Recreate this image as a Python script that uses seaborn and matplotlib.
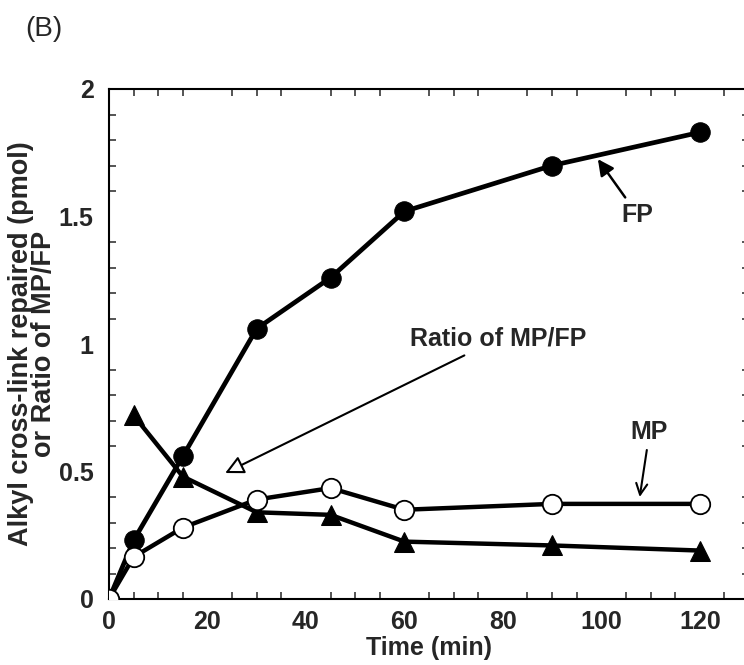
import matplotlib
matplotlib.use("Agg")
import matplotlib.pyplot as plt
import seaborn as sns
from matplotlib.ticker import MultipleLocator

# data (time in min)
fp_time = [0, 5, 15, 30, 45, 60, 90, 120]
fp_values = [0, 0.23, 0.56, 1.06, 1.26, 1.52, 1.70, 1.83]

mp_time = [0, 5, 15, 30, 45, 60, 90, 120]
mp_values = [0, 0.165, 0.28, 0.39, 0.435, 0.35, 0.373, 0.373]

ratio_time = [5, 15, 30, 45, 60, 90, 120]
ratio_values = [0.72, 0.48, 0.34, 0.33, 0.225, 0.21, 0.19]

x_ticks = [0, 20, 40, 60, 80, 100, 120]
y_ticks = [0, 0.5, 1, 1.5, 2]
y_tick_labels = ["0", "0.5", "1", "1.5", "2"]

sns.set_style("ticks")
plt.rcParams["font.family"] = ["Liberation Sans", "DejaVu Sans"]

fig = plt.figure(figsize=(7.44, 6.65), dpi=100)
# axes runs a bit past the right edge, like the cropped original
ax = fig.add_axes([109 / 744, 66 / 665, 640 / 744, 510 / 665])

sns.lineplot(x=ratio_time, y=ratio_values, ax=ax, color="black", lw=3.2,
             marker="^", markersize=14, markerfacecolor="black",
             markeredgecolor="black", zorder=3)
sns.lineplot(x=fp_time, y=fp_values, ax=ax, color="black", lw=3.4,
             marker="o", markersize=14, markerfacecolor="black",
             markeredgecolor="black", zorder=4)
sns.lineplot(x=mp_time, y=mp_values, ax=ax, color="black", lw=3.2,
             marker="o", markersize=14, markerfacecolor="white",
             markeredgecolor="black", markeredgewidth=1.3, zorder=5)

ax.set_xlim(0, 130)
ax.set_ylim(0, 2)
ax.set_xticks(x_ticks)
ax.set_xticklabels([str(t) for t in x_ticks], fontsize=18, fontweight="bold")
ax.set_yticks(y_ticks)
ax.set_yticklabels(y_tick_labels, fontsize=18, fontweight="bold")
ax.xaxis.set_minor_locator(MultipleLocator(5))
ax.yaxis.set_minor_locator(MultipleLocator(0.1))
ax.tick_params(which="major", length=0)
ax.tick_params(axis="y", which="major", pad=11)
ax.tick_params(axis="x", which="major", pad=8)
ax.tick_params(which="minor", direction="in", length=5, width=1.1,
               top=True, right=True, bottom=True, left=True)
for s in ax.spines.values():
    s.set_linewidth(1.5)
    s.set_color("black")

ax.set_xlabel("Time (min)", fontsize=18, fontweight="bold", labelpad=1)
ax.set_ylabel("Alkyl cross-link repaired (pmol)\nor Ratio of MP/FP",
              fontsize=19.5, fontweight="bold", linespacing=0.85)
ax.yaxis.set_label_coords((57 - 109) / 640, 0.5)

# annotations
ax.annotate("FP", xy=(99.3, 1.725), xytext=(107.4, 1.506),
            ha="center", va="center", fontsize=18, fontweight="bold",
            arrowprops=dict(arrowstyle="-|>", color="black", lw=1.8,
                            mutation_scale=24, shrinkA=2, shrinkB=0))
ax.annotate("Ratio of MP/FP", xy=(23.6, 0.494), xytext=(79, 1.02),
            ha="center", va="center", fontsize=18, fontweight="bold",
            arrowprops=dict(arrowstyle="-|>", facecolor="white",
                            edgecolor="black", lw=1.5, mutation_scale=28,
                            shrinkA=2, shrinkB=0))
ax.annotate("MP", xy=(107.8, 0.40), xytext=(109.8, 0.655),
            ha="center", va="center", fontsize=18, fontweight="bold",
            arrowprops=dict(arrowstyle="->", color="black", lw=1.5,
                            mutation_scale=20, shrinkA=2, shrinkB=0))

fig.text(25 / 744, 1 - 29 / 665, "(B)", fontsize=20, ha="left", va="center")

fig.savefig("out.png", dpi=100)
